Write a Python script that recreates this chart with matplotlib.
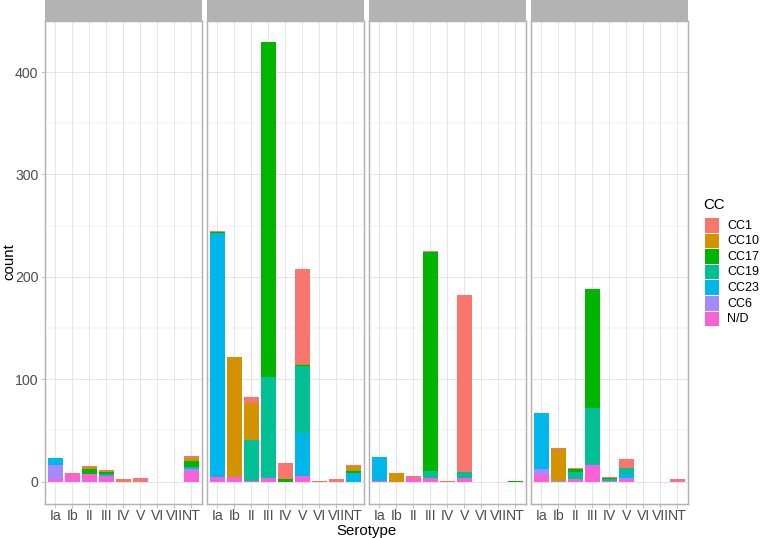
import numpy as np
import matplotlib.pyplot as plt
from matplotlib.patches import Rectangle

plt.rcParams['font.family'] = ['Liberation Sans', 'DejaVu Sans']

# --- dados ---
serotipos = ['Ia', 'Ib', 'II', 'III', 'IV', 'V', 'VI', 'VII', 'NT']
grupos_cc = ['CC1', 'CC10', 'CC17', 'CC19', 'CC23', 'CC6', 'N/D']
cores_cc = ['#F8766D', '#D39200', '#00B400', '#00C094', '#00B6EB', '#A58AFF', '#FB61D7']

# painel 1
p1_cc1  = [0, 1, 1, 1, 2, 3, 0, 0, 2]
p1_cc10 = [0, 0, 2, 1, 0, 0, 0, 0, 3]
p1_cc17 = [0, 0, 5, 2, 0, 0, 0, 0, 6]
p1_cc19 = [0, 0, 0, 1, 0, 0, 0, 0, 1]
p1_cc23 = [7, 0, 0, 1, 0, 0, 0, 0, 1]
p1_cc6  = [14, 0, 0, 0, 0, 0, 0, 0, 2]
p1_nd   = [2, 7, 7, 5, 0, 0, 0, 0, 10]

# painel 2
p2_cc1  = [1, 0, 6, 0, 16, 93, 1, 2, 1]
p2_cc10 = [0, 118, 36, 0, 0, 1, 0, 0, 5]
p2_cc17 = [1, 0, 0, 327, 2, 1, 0, 0, 2]
p2_cc19 = [1, 0, 40, 98, 0, 66, 0, 0, 0]
p2_cc23 = [238, 0, 0, 1, 0, 42, 0, 0, 8]
p2_cc6  = [0, 0, 0, 0, 0, 0, 0, 0, 0]
p2_nd   = [4, 4, 1, 3, 0, 5, 0, 0, 0]

# painel 3
p3_cc1  = [0, 0, 2, 1, 1, 173, 0, 0, 0]
p3_cc10 = [0, 8, 0, 0, 0, 0, 0, 0, 0]
p3_cc17 = [0, 0, 0, 214, 0, 0, 0, 0, 1]
p3_cc19 = [0, 0, 0, 7, 0, 6, 0, 0, 0]
p3_cc23 = [23, 0, 0, 0, 0, 0, 0, 0, 0]
p3_cc6  = [0, 0, 0, 0, 0, 0, 0, 0, 0]
p3_nd   = [1, 0, 3, 3, 0, 3, 0, 0, 0]

# painel 4
p4_cc1  = [0, 1, 1, 0, 1, 9, 0, 0, 1]
p4_cc10 = [0, 31, 0, 0, 0, 0, 0, 0, 0]
p4_cc17 = [0, 0, 3, 116, 1, 0, 0, 0, 0]
p4_cc19 = [0, 0, 7, 55, 1, 6, 0, 0, 0]
p4_cc23 = [55, 0, 0, 1, 0, 4, 0, 0, 0]
p4_cc6  = [6, 1, 0, 0, 0, 1, 0, 0, 0]
p4_nd   = [6, 0, 2, 16, 1, 2, 0, 0, 1]

paineis = [
    [p1_cc1, p1_cc10, p1_cc17, p1_cc19, p1_cc23, p1_cc6, p1_nd],
    [p2_cc1, p2_cc10, p2_cc17, p2_cc19, p2_cc23, p2_cc6, p2_nd],
    [p3_cc1, p3_cc10, p3_cc17, p3_cc19, p3_cc23, p3_cc6, p3_nd],
    [p4_cc1, p4_cc10, p4_cc17, p4_cc19, p4_cc23, p4_cc6, p4_nd],
]

W, H = 760, 538
CINZA70 = '#B3B3B3'
CINZA87 = '#DEDEDE'
CINZA30 = '#4D4D4D'
TAM_TICK = 10.2
TAM_LEG = 9.0
TAM_TITULO = 10.8


def caixa(x0, y0, x1, y1):
    """Converte pixels (topo-esquerda) para fracao da figura."""
    return [x0 / W, 1 - y1 / H, (x1 - x0) / W, (y1 - y0) / H]


fig = plt.figure(figsize=(W / 100, H / 100), dpi=100)
x = np.arange(len(serotipos))

for k, series in enumerate(paineis):
    x0 = 45 + k * 162
    ax = fig.add_axes(caixa(x0, 20.5, x0 + 156.5, 503.5))
    faixa = fig.add_axes(caixa(x0, 0, x0 + 156.5, 20.5))
    faixa.set_facecolor(CINZA70)
    faixa.set_xticks([])
    faixa.set_yticks([])
    for s in faixa.spines.values():
        s.set_visible(False)

    # empilhamento: N/D embaixo, CC1 em cima (como no ggplot)
    base = np.zeros(len(serotipos))
    for nome, cor, vals in reversed(list(zip(grupos_cc, cores_cc, series))):
        vals = np.array(vals, dtype=float)
        ax.bar(x, vals, width=0.9, bottom=base, color=cor, linewidth=0)
        base += vals

    ax.set_xlim(-0.6, len(serotipos) - 0.4)
    ax.set_ylim(-21.45, 450.45)
    ax.set_xticks(x)
    ax.set_xticklabels(serotipos)
    ax.set_yticks([0, 100, 200, 300, 400])
    ax.set_yticks([50, 150, 250, 350, 450], minor=True)
    ax.set_axisbelow(True)
    ax.grid(True, which='major', color=CINZA87, linewidth=0.55)
    ax.grid(True, which='minor', axis='y', color=CINZA87, linewidth=0.3)
    ax.tick_params(which='minor', length=0)
    ax.tick_params(which='major', length=2.75, width=0.55, color=CINZA70,
                   labelsize=TAM_TICK, labelcolor=CINZA30, pad=2.0)
    ax.tick_params(axis='x', pad=1.2)
    if k > 0:
        ax.tick_params(axis='y', length=0, labelleft=False)
    for s in ax.spines.values():
        s.set_color(CINZA70)
        s.set_linewidth(1.07)

fig.text(9 / W, 1 - 262 / H, 'count', rotation=90, ha='center', va='center', fontsize=TAM_TITULO)
fig.text(366 / W, 1 - 530.5 / H, 'Serotype', ha='center', va='center', fontsize=TAM_TITULO)

# legenda montada a mao, como a do ggplot
fig.text(703 / W, 1 - 205 / H, 'CC', ha='left', va='center', fontsize=TAM_TITULO)
for i, (nome, cor) in enumerate(zip(grupos_cc, cores_cc)):
    y_topo = 218 + i * 15.6
    fig.add_artist(Rectangle((704.5 / W, 1 - (y_topo + 14.6) / H), 14.5 / W, 14.6 / H,
                             transform=fig.transFigure, facecolor=cor, edgecolor='none'))
    fig.text(727 / W, 1 - (y_topo + 7.6) / H, nome, ha='left', va='center',
             fontsize=TAM_LEG, color='black')

fig.savefig('out.png', dpi=100)
